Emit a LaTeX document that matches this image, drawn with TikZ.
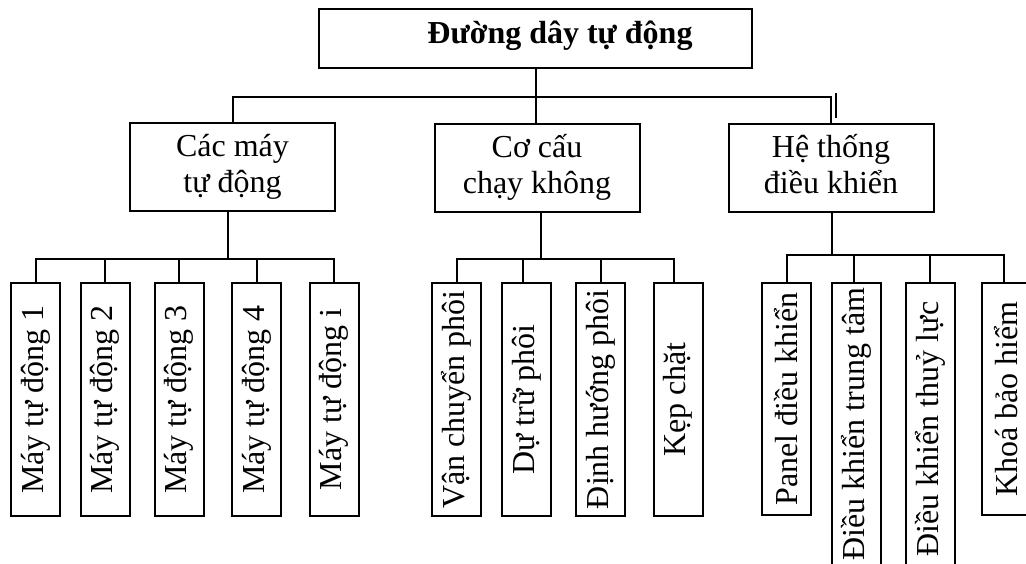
\documentclass[tikz,border=0pt]{standalone}
\usepackage{fontspec}
\setmainfont{Liberation Serif}
\newcommand{\midtwo}[2]{\rule{0pt}{16pt}#1\\#2\rule[-8.5pt]{0pt}{8.5pt}}
\begin{document}
\begin{tikzpicture}[x=0.5pt,y=-0.5pt, line width=1pt,
  box/.style={draw, rectangle, inner sep=0pt, font=\fontsize{16}{18}\selectfont},
  mid/.style={box, minimum width=102.5pt, minimum height=44pt, align=center},
  leaf/.style={box, rotate=90, minimum height=24.5pt, minimum width=116.5pt}]
\useasboundingbox (0,0) rectangle (1026,563);
\clip (0,0) rectangle (1026,563);
% top
\node[box, minimum width=216.5pt, minimum height=29.5pt] (T) at (535.5,38.5) {};
\node[anchor=base, inner sep=0pt, font=\fontsize{16}{18}\selectfont\bfseries] (Tt) at (560,43) {Đường dây tự động};
% level 2
\node[mid] (A) at (232.5,167) {\midtwo{Các máy}{tự động}};
\node[mid] (B) at (537,167.5) {\midtwo{Cơ cấu}{chạy không}};
\node[mid] (C) at (831,167.5) {\midtwo{Hệ thống}{điều khiển}};
\coordinate (j0) at (536,97);
\draw (T.south) -- (T.south |- B.north);
\draw (A.north) |- (j0) -| (C.north);
\draw (836,93) -- (836,118);
% group 1
\node[leaf] (a1) at (35.5,399.5) {Máy tự động 1};
\node[leaf] (a2) at (105,399.5) {Máy tự động 2};
\node[leaf] (a3) at (179,399.5) {Máy tự động 3};
\node[leaf] (a4) at (256.5,399.5) {Máy tự động 4};
\node[leaf] (a5) at (334,399.5) {Máy tự động i};
\coordinate (jA) at (228,259);
\draw (A.south -| jA) -- (jA);
\draw (a1.east) |- (jA) -| (a5.east);
\draw (a2.east) -- (a2.east |- jA);
\draw (a3.east) -- (a3.east |- jA);
\draw (a4.east) -- (a4.east |- jA);
% group 2
\node[leaf] (b1) at (456.5,399.5) {Vận chuyển phôi};
\node[leaf] (b2) at (526.5,399.5) {Dự trữ phôi};
\node[leaf] (b3) at (600.5,399.5) {Định hướng phôi};
\node[leaf] (b4) at (678,399.5) {Kẹp chặt};
\coordinate (jB) at (541,259);
\draw (B.south -| jB) -- (jB);
\draw (b1.east) |- (jB) -| ([xshift=-2pt]b4.east);
\draw ([xshift=-1.75pt]b2.east) -- ([xshift=-1.75pt]b2.east |- jB);
\draw (b3.east) -- (b3.east |- jB);
% group 3
\node[leaf, minimum width=116pt] (c1) at (786.5,399) {Panel điều khiển};
\node[leaf, minimum width=141pt] (c2) at (856.5,424) {Điều khiển trung tâm};
\node[leaf, minimum width=146pt] (c3) at (930,429) {Điều khiển thuỷ lực};
\node[leaf, minimum width=116pt] (c4) at (1006.5,399) {Khoá bảo hiểm};
\coordinate (jC) at (832,255);
\draw (C.south -| jC) -- (jC);
\draw (c1.east) |- (jC) -| ([xshift=-1.25pt]c4.east);
\draw ([xshift=-1.25pt]c2.east) -- ([xshift=-1.25pt]c2.east |- jC);
\draw (c3.east) -- (c3.east |- jC);
\end{tikzpicture}
\end{document}
